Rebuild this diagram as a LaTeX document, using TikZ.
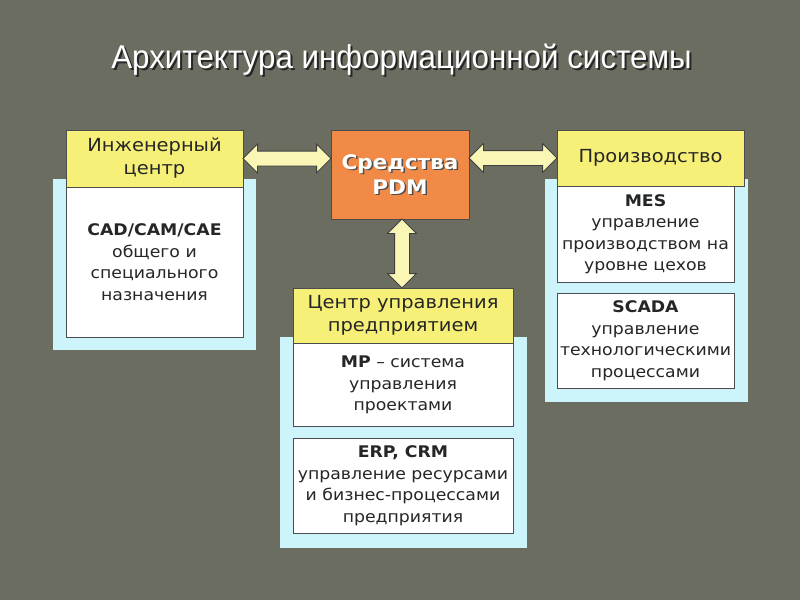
\documentclass[tikz,border=0pt]{standalone}
\usepackage{fontspec}
\setmainfont[FakeStretch=1.08]{DejaVu Sans}
\newfontfamily\titlefont{Liberation Sans}
\usetikzlibrary{shapes,arrows,fit,calc,positioning}

\definecolor{bgolive}{RGB}{108,109,97}
\definecolor{hdryellow}{RGB}{246,240,120}
\definecolor{bgcyan}{RGB}{204,244,250}
\definecolor{pdmorange}{RGB}{241,138,70}
\definecolor{arrowfill}{RGB}{250,247,182}

\tikzset{
  header/.style={draw=black!70, fill=hdryellow, align=center, inner sep=0pt,
    font=\fontsize{18}{23}\selectfont, text=black!85},
  content/.style={draw=black!70, fill=white, align=center, inner sep=0pt,
    font=\fontsize{16}{21.5}\selectfont, text=black!85},
  dblarrow/.style={double arrow, draw=black!75, fill=arrowfill, line width=0.8pt,
    inner sep=7pt, double arrow head extend=7pt, double arrow head indent=0pt}
}

\begin{document}
\begin{tikzpicture}[x=1pt, y=-1pt]
\useasboundingbox[fill=bgolive] (0,0) rectangle (800,600);

% title
\node[text=black!85, font=\titlefont\fontsize{33}{38}\selectfont, transform shape, xscale=0.95] (titleshadow) at (403.5,62) {Архитектура информационной системы};
\node[text=white, font=\titlefont\fontsize{33}{38}\selectfont, transform shape, xscale=0.95] (title) at (401.5,60) {Архитектура информационной системы};

% cyan panels
\fill[bgcyan] (53,179) rectangle (256,350);
\fill[bgcyan] (280,337) rectangle (527,548);
\fill[bgcyan] (545,179) rectangle (748,402);

% left column
\node[header, minimum width=177pt, minimum height=57pt] (eng) at (154.5,158.5) {Инженерный\\центр};
\node[content, minimum width=177pt, minimum height=150pt, anchor=north] (cad) at (eng.south)
  {\textbf{CAD/CAM/CAE}\\общего и\\специального\\назначения};

% PDM
\node[draw=black!70, fill=pdmorange, minimum width=138pt, minimum height=89pt] (pdm) at (400,174.5) {};
\node[text=black!70, font=\fontsize{20}{25}\selectfont\bfseries, align=center] (pdmshadow) at ($(pdm.center)+(1.5,1.5)$) {Средства\\PDM};
\node[text=white, font=\fontsize{20}{25}\selectfont\bfseries, align=center] (pdmtext) at (pdm.center) {Средства\\PDM};

% right column
\node[header, minimum width=187pt, minimum height=56pt] (prod) at (650.5,158) {Производство};
\node[content, minimum width=177pt, minimum height=96pt] (mes) at (645.5,234)
  {\textbf{MES}\\управление\\производством на\\уровне цехов};
\node[content, minimum width=177pt, minimum height=95pt] (scada) at (645.5,340.5)
  {\textbf{SCADA}\\управление\\технологическими\\процессами};

% center column
\node[header, minimum width=220pt, minimum height=55pt] (mgmt) at (403,315.5) {Центр управления\\предприятием};
\node[content, minimum width=220pt, minimum height=83pt, anchor=north] (mp) at (mgmt.south)
  {\textbf{MP} – система\\управления\\проектами};
\node[content, minimum width=220pt, minimum height=95pt] (erp) at (403,485.5)
  {\textbf{ERP, CRM}\\управление ресурсами\\и бизнес-процессами\\предприятия};

% arrows
\path (eng.east) -- (eng.east -| pdm.west)
  node[midway, dblarrow, minimum height=88pt] (arrowleft) {};
\path (prod.west -| pdm.east) -- (prod.west)
  node[midway, dblarrow, minimum height=88pt] (arrowright) {};
\path ($(pdm.south)+(2,0)$) -- ($(pdm.south |- mgmt.north)+(2,0)$)
  node[midway, dblarrow, minimum height=69pt, rotate=90] (arrowdown) {};
\end{tikzpicture}
\end{document}
